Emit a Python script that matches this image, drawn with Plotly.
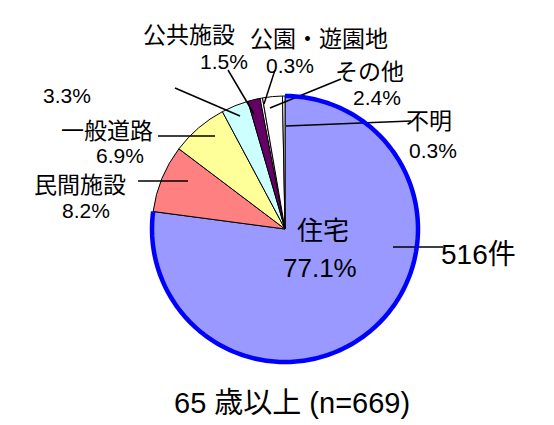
import numpy as np
import plotly.graph_objects as go

W, H = 554, 425

labels = ["住宅", "民間施設", "一般道路", "その他(3.3%)", "公共施設", "公園・遊園地", "その他", "不明"]
values = [77.1, 8.2, 6.9, 3.3, 1.5, 0.3, 2.4, 0.3]
colors = ["#9999FF", "#FF8080", "#FFFF99", "#CCFFFF", "#660066", "#FFFFFF", "#FFFFFF", "#FFFFFF"]
count_label = "516件"
title_text = "65 歳以上 (n=669)"

JP = "Liberation Sans, Noto Sans CJK JP, sans-serif"
NUM = "Liberation Sans, Arial, sans-serif"

def px(x):
    return x / W

def py(y):
    return 1 - y / H

# pie geometry (pixels)
cx, cy, r = 277, 221, 133

fig = go.Figure(go.Pie(
    labels=labels,
    values=values,
    sort=False,
    direction="clockwise",
    rotation=0,
    textinfo="none",
    textposition="none",
    hoverinfo="label+percent",
    marker=dict(colors=colors, line=dict(color="#000000", width=1)),
    domain=dict(x=[px(cx - r), px(cx + r)], y=[py(cy + r), py(cy - r)]),
    showlegend=False,
))

def pct(v):
    return f"{v:.1f}%"

annotations = []

def add(text, x, y, size, font):
    annotations.append(dict(
        text=text, x=px(x), y=py(y), xref="paper", yref="paper",
        xanchor="center", yanchor="middle", showarrow=False,
        font=dict(family=font, size=size, color="#000000"),
    ))

SL, SV = 23, 21
add(labels[4], 181, 27, SL, JP)
add(pct(values[4]), 216, 53, SV, NUM)
add(labels[5], 311, 31, SL, JP)
add(pct(values[5]), 282, 57, SV, NUM)
add(labels[6], 361, 64.5, SL, JP)
add(pct(values[6]), 369, 89, SV, NUM)
add(labels[7], 421, 113, SL, JP)
add(pct(values[7]), 425, 143, SV, NUM)
add(pct(values[3]), 59, 88, SV, NUM)
add(labels[2], 99, 123, SL, JP)
add(pct(values[2]), 112, 148, SV, NUM)
add(labels[1], 72, 177, SL, JP)
add(pct(values[1]), 78, 202, SV, NUM)
add(labels[0], 315, 223, 26, JP)
add(pct(values[0]), 312, 260, 26, NUM)
add(count_label, 470, 246, 28, JP)
add(title_text, 284, 395, 29, JP)

leaders = [
    (220, 62, 246, 106),   # 公共施設
    (267, 62, 256, 96),    # 公園・遊園地
    (333, 71, 262, 100),   # その他
    (403, 113, 278, 118),  # 不明
    (167, 80, 232, 108),   # 3.3%
    (150, 128, 207, 128),  # 一般道路
    (130, 173, 180, 173),  # 民間施設
    (385, 239, 435, 239),  # 516件
]
shapes = []
for x0, y0, x1, y1 in leaders:
    shapes.append(dict(
        type="line", xref="paper", yref="paper",
        x0=px(x0), y0=py(y0), x1=px(x1), y1=py(y1),
        line=dict(color="#000000", width=1.5),
    ))

# thick blue outline on the outer arc of the 住宅 slice, derived from its share
frac = values[0] / sum(values)
theta = np.linspace(0, frac * 2 * np.pi, 240)
ax = cx + r * np.sin(theta)
ay = cy - r * np.cos(theta)
path = "M " + " L ".join(f"{px(a):.5f},{py(b):.5f}" for a, b in zip(ax, ay))
shapes.append(dict(type="path", xref="paper", yref="paper", path=path,
                   line=dict(color="#0000FF", width=4.5), layer="above"))

fig.update_layout(
    width=W, height=H,
    margin=dict(l=0, r=0, t=0, b=0),
    paper_bgcolor="#FFFFFF",
    plot_bgcolor="#FFFFFF",
    annotations=annotations,
    shapes=shapes,
    font=dict(family=JP),
)

fig.write_html("out.html")
